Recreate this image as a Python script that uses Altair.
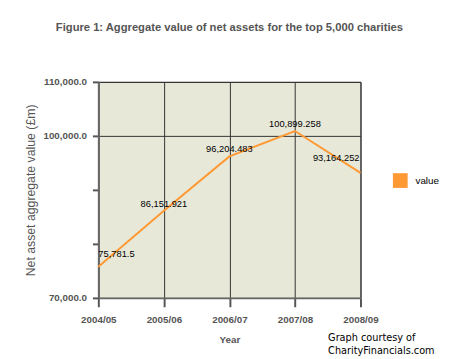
import altair as alt
import pandas as pd

years = ["2004/05", "2005/06", "2006/07", "2007/08", "2008/09"]
values = [75781.5, 86151.921, 96204.483, 100899.258, 93164.252]
labels = ["75,781.5", "86,151.921", "96,204.483", "100,899.258", "93,164.252"]
series = ["value"] * 5
y_ticks = [70000, 80000, 90000, 100000, 110000]

df = pd.DataFrame({"year": years, "value": values, "label": labels, "series": series,
                   "idx": list(range(5))})

x = alt.X("year:N", sort=years, scale=alt.Scale(type="point", padding=0),
          axis=alt.Axis(title="Year", labelAngle=0, labelFont="Liberation Sans",
                        labelFontWeight="bold", labelColor="#555", labelFontSize=10,
                        titleFont="Liberation Sans", titleFontWeight="bold", titleColor="#555",
                        titleFontSize=10, titlePadding=10, domainColor="#666", domainWidth=2,
                        tickColor="#555", tickWidth=2, tickSize=9, labelPadding=8,
                        grid=True, gridColor="#333", gridWidth=1))
y = alt.Y("value:Q", scale=alt.Scale(domain=[70000, 110000], nice=False, zero=False),
          axis=alt.Axis(title="Net asset aggregate value (£m)", values=y_ticks,
                        labelExpr="(datum.value == 80000 || datum.value == 90000) ? '' : format(datum.value, ',.1f')",
                        labelFont="Liberation Sans", labelFontWeight="bold", labelColor="#555",
                        labelFontSize=10, titleFont="Liberation Sans", titleFontWeight="normal",
                        titleColor="#555", titleFontSize=12.5, titlePadding=6,
                        domainColor="#666", domainWidth=2, tickColor="#555", tickWidth=2,
                        tickSize=6, labelPadding=6, grid=True, gridColor="#333", gridWidth=1,
                        gridOpacity={"condition": {"test": "datum.value == 80000 || datum.value == 90000 || datum.value == 70000", "value": 0}, "value": 1}))

line = alt.Chart(df).mark_line(strokeWidth=2).encode(
    x=x, y=y,
    color=alt.Color("series:N", scale=alt.Scale(range=["#FF9933"]),
                    legend=alt.Legend(title=None, orient="none", legendX=300, legendY=93,
                                      symbolType="square", symbolSize=225, symbolStrokeWidth=0,
                                      symbolFillColor="#FF9933", symbolOpacity=1,
                                      labelFont="Liberation Sans", labelFontSize=10,
                                      labelColor="#000", labelOffset=8, padding=0))
)

def txt(**kw):
    return alt.Chart(df).mark_text(font="Liberation Sans", fontSize=9.5, color="#000", **kw)

t_first = txt(dy=-13, align="left", dx=0).transform_filter("datum.idx == 0").encode(x=x, y=y, text="label:N")
t_mid = txt(dy=-7, align="center").transform_filter("datum.idx > 0 && datum.idx < 4").encode(x=x, y=y, text="label:N")
t_last = txt(dy=-15, align="right", dx=-1).transform_filter("datum.idx == 4").encode(x=x, y=y, text="label:N")

credit_df = pd.DataFrame({"t": ["Graph courtesy of\nCharityFinancials.com"]})
credit = alt.Chart(credit_df).mark_text(
    font="DejaVu Sans Condensed, Open Sans", fontSize=11, color="#000", align="left", baseline="middle",
    lineBreak="\n", lineHeight=13
).encode(x=alt.value(234), y=alt.value(261), text="t:N")

chart = alt.layer(line, t_first, t_mid, t_last, credit).properties(
    width=267, height=220,
    title=alt.TitleParams("Figure 1: Aggregate value of net assets for the top 5,000 charities",
                          font="Liberation Sans", fontSize=11.4, fontWeight="bold", color="#555",
                          anchor="middle", offset=44),
    autosize=alt.AutoSizeParams(type="none"),
    padding={"left": 92, "top": 72, "right": 83, "bottom": 60},
).configure_view(fill="#E8E8D8", stroke="#333", strokeWidth=1)

chart.save("out.html", embed_options={"renderer": "svg", "actions": False})
